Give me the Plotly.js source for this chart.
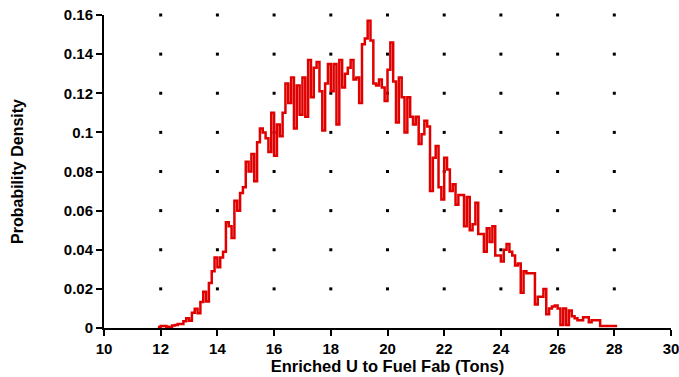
<!DOCTYPE html>
<html>
<head>
<meta charset="utf-8">
<script src="https://cdn.plot.ly/plotly-3.0.1.min.js"></script>
<style>html,body{margin:0;padding:0;background:#fff;}#chart{width:679px;height:377px;}</style>
</head>
<body>
<div id="chart"></div>
<script>
// Histogram (bin left edge start and width), probability density per bin
const binStart = 11.9;
const binWidth = 0.1;
const density = [
  0.0005, 0.001, 0.001, 0.0007, 0.0003, 0.0013, 0.0015, 0.002, 0.002, 0.0034,
  0.005, 0.0037, 0.0078, 0.0098, 0.0075, 0.0133, 0.0185, 0.0135, 0.023, 0.029,
  0.036, 0.031, 0.036, 0.039, 0.054, 0.052, 0.046, 0.065, 0.06, 0.069,
  0.072, 0.085, 0.08, 0.089, 0.075, 0.095, 0.102, 0.100, 0.097, 0.090,
  0.110, 0.088, 0.104, 0.098, 0.110, 0.125, 0.115, 0.128, 0.102, 0.124,
  0.109, 0.128, 0.108, 0.137, 0.118, 0.133, 0.136, 0.121, 0.101, 0.125,
  0.135, 0.121, 0.135, 0.104, 0.137, 0.123, 0.130, 0.133, 0.137, 0.127,
  0.128, 0.115, 0.145, 0.148, 0.157, 0.147, 0.125, 0.124, 0.127, 0.123,
  0.116, 0.132, 0.146, 0.126, 0.105, 0.128, 0.118, 0.100, 0.118, 0.108,
  0.104, 0.108, 0.094, 0.099, 0.106, 0.103, 0.070, 0.087, 0.093, 0.072,
  0.0657, 0.087, 0.081, 0.070, 0.0735, 0.063, 0.068, 0.068, 0.052, 0.067,
  0.050, 0.053, 0.064, 0.048, 0.048, 0.039, 0.051, 0.044, 0.052, 0.037,
  0.037, 0.034, 0.040, 0.043, 0.039, 0.037, 0.032, 0.033, 0.018, 0.029,
  0.028, 0.028, 0.028, 0.012, 0.016, 0.016, 0.020, 0.007, 0.010, 0.011,
  0.0115, 0.010, 0.0015, 0.010, 0.0015, 0.009, 0.006, 0.005, 0.004, 0.004,
  0.0055, 0.0055, 0.003, 0.004, 0.004, 0.004, 0.001, 0.001, 0.001, 0.001,
  0.001, 0.001
];
const xTicks = [10, 12, 14, 16, 18, 20, 22, 24, 26, 28, 30];
const yTicks = [0, 0.02, 0.04, 0.06, 0.08, 0.1, 0.12, 0.14, 0.16];
const xTitle = 'Enriched U to Fuel Fab (Tons)';
const yTitle = 'Probability Density';

// step-line coordinates from bin edges
const xs = [], ys = [];
density.forEach((d, i) => { xs.push(+(binStart + i * binWidth).toFixed(3)); ys.push(d); });
xs.push(+(binStart + density.length * binWidth).toFixed(3));
ys.push(density[density.length - 1]);

// grid dots at tick intersections (interior columns, non-zero rows)
const dx = [], dy = [];
xTicks.slice(1, -1).forEach(x => yTicks.slice(1).forEach(y => { dx.push(x); dy.push(y); }));

const fam = 'Liberation Sans, Arial, sans-serif';
const tickFont = {family: fam, size: 15, color: '#000', weight: 'bold'};

Plotly.newPlot('chart', [
  {x: dx, y: dy, type: 'scatter', mode: 'markers', hoverinfo: 'skip',
   marker: {symbol: 'square', size: 3, color: '#000'}, cliponaxis: false},
  {x: xs, y: ys, type: 'scatter', mode: 'lines',
   line: {shape: 'hv', color: '#e00000', width: 2.5}}
], {
  width: 679, height: 377,
  margin: {l: 104, r: 8, t: 15, b: 49},
  paper_bgcolor: '#fff', plot_bgcolor: '#fff',
  showlegend: false,
  font: {family: fam, size: 15, color: '#000'},
  xaxis: {
    range: [10, 30], tickvals: xTicks, ticktext: xTicks.map(String),
    showgrid: false, zeroline: false, showline: true, linecolor: '#000', linewidth: 2,
    ticks: 'outside', ticklen: 6, tickwidth: 2, tickcolor: '#000',
    tickfont: tickFont, ticklabeloverflow: 'allow',
    title: {text: xTitle, standoff: 2, font: {family: fam, size: 16.5, color: '#000', weight: 'bold'}}
  },
  yaxis: {
    range: [0, 0.16], tickvals: yTicks, ticktext: yTicks.map(String),
    showgrid: false, zeroline: false, showline: true, linecolor: '#000', linewidth: 2,
    ticks: 'outside', ticklen: 6, tickwidth: 2, tickcolor: '#000',
    tickfont: tickFont, ticklabeloverflow: 'allow',
    title: {text: yTitle, standoff: 36, font: {family: fam, size: 16, color: '#000', weight: 'bold'}}
  }
}, {displayModeBar: false, staticPlot: true});
</script>
</body>
</html>
